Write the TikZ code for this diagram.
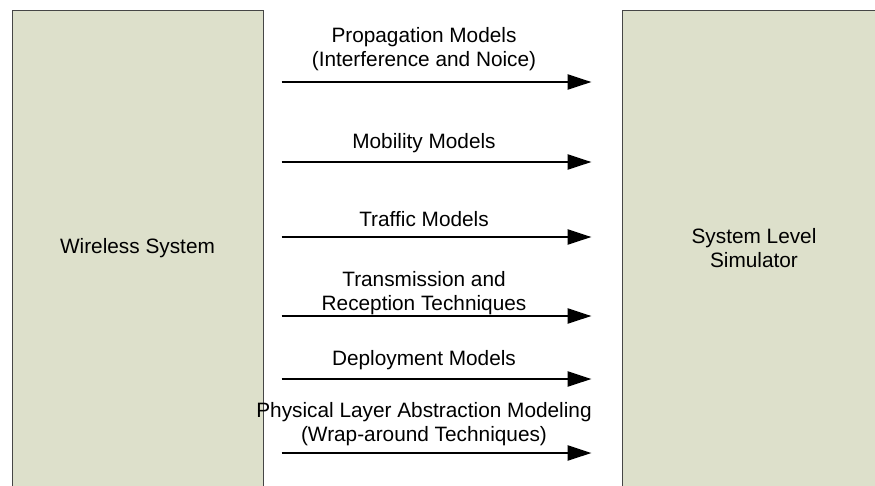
\documentclass[tikz,border=0pt]{standalone}
\usepackage{fontspec}
\setmainfont{Liberation Sans}
\usepackage{tikz}
\usetikzlibrary{arrows.meta}
\definecolor{boxfill}{RGB}{221,224,203}
\definecolor{boxline}{RGB}{70,70,70}

\begin{document}
\begin{tikzpicture}[x=1pt,y=-1pt,
   font=\fontsize{20.8}{24}\selectfont,
   block/.style={draw=boxline,line width=1pt,fill=boxfill,minimum height=477pt,align=center,inner sep=0pt},
   flow/.style={line width=2.6pt,-{Triangle[length=24pt,width=15pt]},shorten <=18pt,shorten >=30pt},
   lbl/.style={anchor=base,align=center,inner sep=0pt}]
   \useasboundingbox (0,0) rectangle (875,485);
   \clip (0,0) rectangle (875,485);
   \node[block,minimum width=251pt] (wireless) at (137.5,248.5) {Wireless System};
   \node[block,minimum width=264pt] (simulator) at (754,248.5) {System Level\\Simulator};
   % one row for each arrow
   \foreach \y/\n in {82/1,162/2,237/3,316/4,379/5,453/6}
   \coordinate (r\n) at (0,\y);
   \foreach \n in {1,...,6}
   \draw[flow] (wireless.east |- r\n) -- (simulator.west |- r\n);
   % labels over the arrows (base = last line)
   \node[lbl] (prop) at (424,66) {Propagation Models\\(Interference and Noice)};
   \node[lbl] (mob) at (424,148) {Mobility Models};
   \node[lbl] (traf) at (424,226) {Traffic Models};
   \node[lbl] (trx) at (424,310) {Transmission and\\Reception Techniques};
   \node[lbl] (depl) at (424,365) {Deployment Models};
   \node[lbl] (phy) at (424,441) {Physical Layer Abstraction Modeling\\(Wrap-around Techniques)};
\end{tikzpicture}
\end{document}
